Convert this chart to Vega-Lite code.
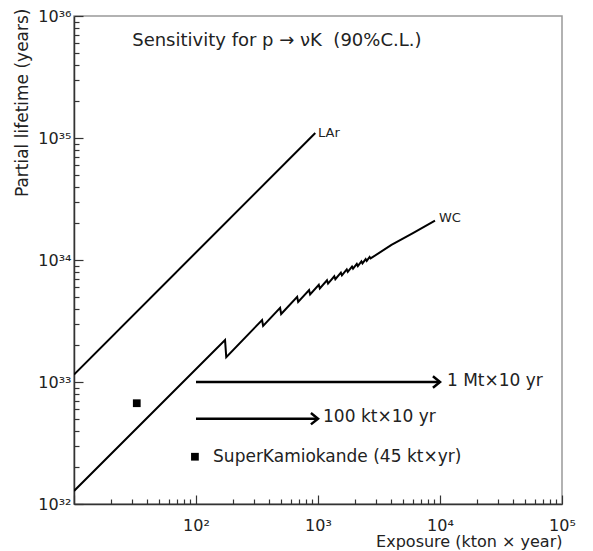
{
  "$schema": "https://vega.github.io/schema/vega-lite/v6.json",
  "width": 488,
  "height": 488,
  "autosize": {"type": "none"},
  "padding": {"left": 74, "top": 16, "right": 31, "bottom": 47},
  "background": "white",
  "config": {
    "view": {"stroke": "#999", "strokeWidth": 1.5},
    "font": "DejaVu Sans"
  },
  "datasets": {
    "curves": [
      {"series": "LAr", "E": 10, "tau": 1.15e33},
      {"series": "LAr", "E": 950, "tau": 1.1e35},
      {"series": "WC", "E": 10, "tau": 1.28e32},
      {"series": "WC", "E": 173, "tau": 2.21e33},
      {"series": "WC", "E": 177, "tau": 1.60e33},
      {"series": "WC", "E": 348, "tau": 3.22e33},
      {"series": "WC", "E": 355, "tau": 2.88e33},
      {"series": "WC", "E": 489, "tau": 4.05e33},
      {"series": "WC", "E": 499, "tau": 3.61e33},
      {"series": "WC", "E": 675, "tau": 4.98e33},
      {"series": "WC", "E": 688, "tau": 4.54e33},
      {"series": "WC", "E": 845, "tau": 5.68e33},
      {"series": "WC", "E": 862, "tau": 5.22e33},
      {"series": "WC", "E": 1015, "tau": 6.27e33},
      {"series": "WC", "E": 1035, "tau": 5.84e33},
      {"series": "WC", "E": 1185, "tau": 6.82e33},
      {"series": "WC", "E": 1209, "tau": 6.41e33},
      {"series": "WC", "E": 1360, "tau": 7.36e33},
      {"series": "WC", "E": 1387, "tau": 6.96e33},
      {"series": "WC", "E": 1540, "tau": 7.88e33},
      {"series": "WC", "E": 1571, "tau": 7.49e33},
      {"series": "WC", "E": 1720, "tau": 8.37e33},
      {"series": "WC", "E": 1754, "tau": 7.99e33},
      {"series": "WC", "E": 1900, "tau": 8.83e33},
      {"series": "WC", "E": 1938, "tau": 8.48e33},
      {"series": "WC", "E": 2080, "tau": 9.28e33},
      {"series": "WC", "E": 2122, "tau": 8.92e33},
      {"series": "WC", "E": 2270, "tau": 9.73e33},
      {"series": "WC", "E": 2315, "tau": 9.38e33},
      {"series": "WC", "E": 2460, "tau": 1.017e34},
      {"series": "WC", "E": 2509, "tau": 9.83e33},
      {"series": "WC", "E": 2650, "tau": 1.059e34},
      {"series": "WC", "E": 2700, "tau": 1.03e34},
      {"series": "WC", "E": 4000, "tau": 1.33e34},
      {"series": "WC", "E": 6000, "tau": 1.66e34},
      {"series": "WC", "E": 9100, "tau": 2.1e34}
    ],
    "arrows": [
      {"E": 100, "E2": 10000, "tau": 1e33},
      {"E": 100, "E2": 1000, "tau": 5e32}
    ],
    "squares": [
      {"role": "data", "E": 32.7, "tau": 6.7e32},
      {"role": "legend", "E": 98, "tau": 2.44e32}
    ],
    "notes": [
      {"role": "title", "E": 30, "tau": 6.2e35, "text": "Sensitivity for p → νK\u00a0\u00a0(90%C.L.)"},
      {"role": "curve", "E": 1000, "tau": 1.1e35, "text": "LAr"},
      {"role": "curve", "E": 9800, "tau": 2.2e34, "text": "WC"},
      {"role": "arrow", "E": 11400, "tau": 1.02e33, "text": "1 Mt×10 yr"},
      {"role": "arrow", "E": 1100, "tau": 5.2e32, "text": "100 kt×10 yr"},
      {"role": "legend", "E": 138, "tau": 2.44e32, "text": "SuperKamiokande (45 kt×yr)"}
    ]
  },
  "encoding": {
    "x": {
      "field": "E",
      "type": "quantitative",
      "scale": {"type": "log", "domain": [10, 100000], "nice": false},
      "axis": {
        "title": "Exposure (kton × year)",
        "values": [10, 20, 30, 40, 50, 60, 70, 80, 90, 100, 200, 300, 400, 500, 600, 700, 800, 900, 1000, 2000, 3000, 4000, 5000, 6000, 7000, 8000, 9000, 10000, 20000, 30000, 40000, 50000, 60000, 70000, 80000, 90000, 100000],
        "grid": false,
        "domainColor": "#333",
        "domainWidth": 1.5,
        "tickColor": "#333",
        "tickWidth": 1.2,
        "tickSize": {"condition": {"test": "abs(log(datum.value)/LN10 - round(log(datum.value)/LN10)) < 0.001", "value": -9}, "value": -5},
        "labelExpr": "abs(datum.value/100 - 1) < 1e-6 ? '10²' : abs(datum.value/1000 - 1) < 1e-6 ? '10³' : abs(datum.value/10000 - 1) < 1e-6 ? '10⁴' : abs(datum.value/100000 - 1) < 1e-6 ? '10⁵' : ''",
        "labelFontSize": 16,
        "labelColor": "#222",
        "labelPadding": 22,
        "labelOverlap": false,
        "labelFlush": false,
        "titleFontSize": 16,
        "titleFontWeight": "normal",
        "titleColor": "#222",
        "titleAnchor": "end",
        "titleAlign": "right",
        "titleBaseline": "middle",
        "titleX": 488,
        "titleY": 37
      }
    },
    "y": {
      "field": "tau",
      "type": "quantitative",
      "scale": {"type": "log", "domain": [1e32, 1e36], "nice": false},
      "axis": {
        "title": "Partial lifetime (years)",
        "values": [1e32, 2e32, 3e32, 4e32, 5e32, 6e32, 7e32, 8e32, 9e32, 1e33, 2e33, 3e33, 4e33, 5e33, 6e33, 7e33, 8e33, 9e33, 1e34, 2e34, 3e34, 4e34, 5e34, 6e34, 7e34, 8e34, 9e34, 1e35, 2e35, 3e35, 4e35, 5e35, 6e35, 7e35, 8e35, 9e35, 1e36],
        "grid": false,
        "domainColor": "#333",
        "domainWidth": 1.5,
        "tickColor": "#333",
        "tickWidth": 1.2,
        "tickSize": {"condition": {"test": "abs(log(datum.value)/LN10 - round(log(datum.value)/LN10)) < 0.001", "value": -9}, "value": -5},
        "labelExpr": "abs(datum.value/1e32 - 1) < 1e-6 ? '10³²' : abs(datum.value/1e33 - 1) < 1e-6 ? '10³³' : abs(datum.value/1e34 - 1) < 1e-6 ? '10³⁴' : abs(datum.value/1e35 - 1) < 1e-6 ? '10³⁵' : abs(datum.value/1e36 - 1) < 1e-6 ? '10³⁶' : ''",
        "labelFontSize": 16,
        "labelColor": "#222",
        "labelPadding": 12,
        "labelOverlap": false,
        "labelFlush": false,
        "titleFontSize": 17,
        "titleFontWeight": "normal",
        "titleColor": "#222",
        "titleAngle": -90,
        "titleAlign": "right",
        "titleBaseline": "middle",
        "titleX": -52,
        "titleY": -8
      }
    }
  },
  "layer": [
    {
      "data": {"name": "curves"},
      "mark": {"type": "line", "color": "black", "strokeWidth": 2, "clip": true},
      "encoding": {"detail": {"field": "series", "type": "nominal"}}
    },
    {
      "data": {"name": "arrows"},
      "mark": {"type": "rule", "color": "black", "strokeWidth": 2.5},
      "encoding": {"x2": {"field": "E2"}}
    },
    {
      "data": {"name": "arrows"},
      "mark": {"type": "point", "shape": "M-1,-0.8L0,0L-1,0.8", "filled": false, "color": "black", "strokeWidth": 2.5, "size": 200, "opacity": 1},
      "encoding": {"x": {"field": "E2", "type": "quantitative"}}
    },
    {
      "data": {"name": "squares"},
      "mark": {"type": "square", "color": "black", "size": 60, "opacity": 1}
    },
    {
      "data": {"name": "notes"},
      "transform": [{"filter": "datum.role == 'title'"}],
      "mark": {"type": "text", "align": "left", "baseline": "middle", "fontSize": 18, "color": "#222"},
      "encoding": {"text": {"field": "text"}}
    },
    {
      "data": {"name": "notes"},
      "transform": [{"filter": "datum.role == 'curve'"}],
      "mark": {"type": "text", "align": "left", "baseline": "middle", "fontSize": 13, "color": "#222"},
      "encoding": {"text": {"field": "text"}}
    },
    {
      "data": {"name": "notes"},
      "transform": [{"filter": "datum.role == 'arrow' || datum.role == 'legend'"}],
      "mark": {"type": "text", "align": "left", "baseline": "middle", "fontSize": 17, "color": "#222"},
      "encoding": {"text": {"field": "text"}}
    }
  ]
}
